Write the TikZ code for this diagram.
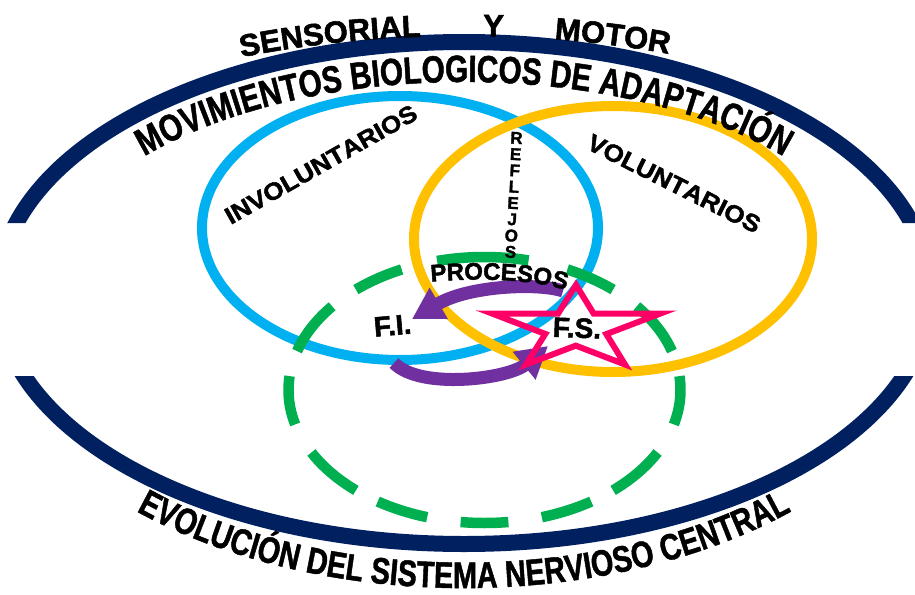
\documentclass[tikz,border=0pt]{standalone}
\usepackage{fontspec}
\setmainfont{Liberation Sans}
\newfontfamily\hb{Liberation Sans Bold}[FakeBold=1.8]
\newfontfamily\hbw{Liberation Sans Bold}[FakeStretch=1.09, FakeBold=1.8]
\newfontfamily\hbc{Liberation Sans Bold}[FakeStretch=0.78, FakeBold=1.2]
\usetikzlibrary{decorations.text,arrows.meta}
\definecolor{navyc}{RGB}{0,32,96}
\definecolor{skyc}{RGB}{0,176,240}
\definecolor{goldc}{RGB}{255,192,0}
\definecolor{grnc}{RGB}{0,176,80}
\definecolor{purpc}{RGB}{112,48,160}
\definecolor{pinkc}{RGB}{255,0,102}
\newcommand\fMov{\hbc\fontsize{38}{40}\selectfont}
\newcommand\fEvo{\hbc\fontsize{37}{40}\selectfont}
\newcommand\fSen{\hb\fontsize{31}{36}\selectfont}
\newcommand\fInv{\hbw\fontsize{24}{26}\selectfont}
\newcommand\fPro{\hb\fontsize{24}{28}\selectfont}
\tikzset{
  curvtext/.style={decorate, decoration={text along path, text align=center, text={#1}}},
  ring/.style={line width=10pt},
  gdash/.style={grnc, line width=10.5pt},
  cyclearrow/.style={purpc, line width=13pt, -{Triangle[width=34pt,length=31pt]}},
  bigl/.style={font=\hb\fontsize{28}{30}\selectfont, inner sep=0pt},
}
\begin{document}
\begin{tikzpicture}[x=1pt,y=1pt]
\useasboundingbox (0,0) rectangle (915,-594);
\fill[white] (0,0) rectangle (915,-594);
\coordinate (nc) at (464,-293);
\coordinate (tc) at (464,-294);
\coordinate (bc) at (400,-228);
\coordinate (oc) at (613,-239);
\coordinate (gc) at (484.5,-390);
% navy ellipse, cut at the sides
\begin{scope}
  \clip (-20,20) rectangle (935,-223) (-20,-376) rectangle (935,-620) (40,-223) rectangle (875,-376);
  \draw[navyc, line width=16pt] (nc) ellipse[x radius=466, y radius=251];
\end{scope}
% blue and orange rings
\draw[ring, skyc] (bc) ellipse[x radius=198, y radius=132];
\draw[ring, goldc] (oc) ellipse[x radius=199, y radius=133];
% green dashed ring
\foreach \a/\b in {77/104, 49/65, 17/39, -15/6, -49/-28, -73/-57, -97/-83, -123/-107, -152/-131, 174/195, 141/163, 115/131}
  \draw[gdash] ([shift={(\a:196 and 133)}]gc) arc[start angle=\a, end angle=\b, x radius=196, y radius=133];
% purple cycle arrows
\coordinate (ua1) at (563,-291);
\coordinate (ua2) at (412,-319);
\coordinate (la1) at (394,-363);
\coordinate (la2) at (548,-346);
\draw[cyclearrow] (ua1) .. controls (540,-283) and (470,-285) .. (ua2);
\draw[cyclearrow] (la1) .. controls (420,-390) and (508,-379) .. (la2);
% star
\coordinate (sT) at (576,-285);
\coordinate (sL) at (492,-313.5);
\coordinate (sR) at (660.5,-313.5);
\coordinate (sBL) at (526,-364.5);
\coordinate (sBR) at (625,-364.5);
\draw[pinkc, line width=6pt, line join=miter]
  (sT) -- (intersection of sT--sBR and sL--sR) -- (sR)
  -- (intersection of sT--sBR and sR--sBL) -- (sBR)
  -- (intersection of sR--sBL and sL--sBR) -- (sBL)
  -- (intersection of sL--sBR and sT--sBL) -- (sL)
  -- (intersection of sT--sBL and sL--sR) -- cycle;
% curved texts
\path[curvtext={|\fSen|SENSORIAL}] ([shift={(116:560 and 258)}]tc) arc[start angle=116, end angle=92, x radius=560, y radius=258];
\path[curvtext={|\fSen|Y}] ([shift={(92:560 and 258)}]tc) arc[start angle=92, end angle=82, x radius=560, y radius=258];
\path[curvtext={|\fSen|MOTOR}] ([shift={(85:560 and 258)}]tc) arc[start angle=85, end angle=64, x radius=560, y radius=258];
\path[curvtext={|\fMov|MOVIMIENTOS BIOLOGICOS DE ADAPTACIÓN}] ([shift={(165:420 and 212)}]tc) arc[start angle=165, end angle=15, x radius=420, y radius=212];
\path[curvtext={|\fEvo|EVOLUCIÓN DEL SISTEMA NERVIOSO CENTRAL}] ([shift={(195:486 and 294)}]tc) arc[start angle=195, end angle=345, x radius=486, y radius=294];
\coordinate (inv1) at (220,-231);
\coordinate (inv2) at (430,-112);
\path[curvtext={|\fInv|INVOLUNTARIOS}] (inv1) -- (inv2);
\coordinate (vol1) at (575,-143);
\coordinate (vol2) at (766,-239);
\path[curvtext={|\fInv|VOLUNTARIOS}] (vol1) -- (vol2);
\coordinate (pr1) at (428,-282);
\coordinate (pr2) at (569,-291);
\path[curvtext={|\fPro|PROCESOS}] (pr1) .. controls (470,-278) and (530,-278) .. (pr2);
\node[font=\hb\fontsize{17}{16.3}\selectfont, align=center, inner sep=0pt, rotate=-3] (refl) at (513.5,-195) {R\\E\\F\\L\\E\\J\\O\\S};
\node[bigl, rotate=5] (fi) at (392.5,-325.5) {F.I.};
\node[bigl, rotate=-2] (fs) at (577,-328) {F.S.};
\end{tikzpicture}
\end{document}
